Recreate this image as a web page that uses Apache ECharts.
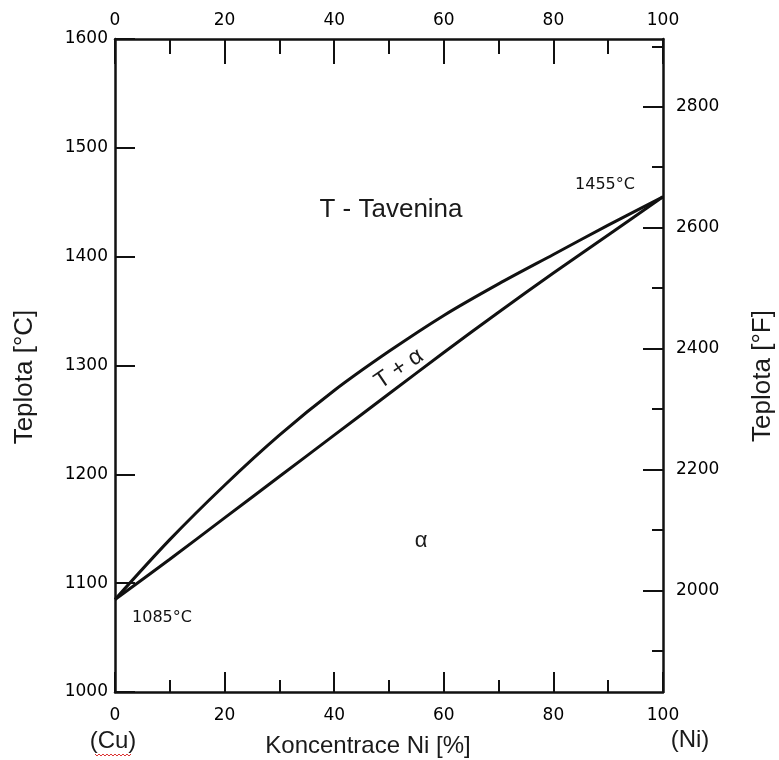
<!DOCTYPE html>
<html>
<head>
<meta charset="utf-8">
<script src="https://cdn.jsdelivr.net/npm/echarts@6/dist/echarts.min.js"></script>
<style>
  html, body { margin: 0; padding: 0; background: #fff; }
  #chart { width: 779px; height: 760px; }
</style>
</head>
<body>
<div id="chart"></div>
<script>
// Cu-Ni phase diagram
const conc = [0, 10, 20, 30, 40, 50, 60, 70, 80, 90, 100];
const liquidus = [1085, 1140, 1190, 1236, 1277, 1313, 1346, 1375, 1402, 1429, 1455];
const solidus = [1085, 1122, 1160, 1198, 1236, 1274, 1312, 1349, 1385, 1420, 1455];

const fTicksMajor = [2000, 2200, 2400, 2600, 2800];
const fTicksMinor = [1900, 2100, 2300, 2500, 2700, 2900];

const ink = '#111';
const tickFont = { fontFamily: 'DejaVu Sans', fontSize: 17, color: '#000', formatter: v => String(v) };

const chart = echarts.init(document.getElementById('chart'));

function xAx(pos, major, minor, margin) {
  return {
    type: 'value', position: pos, min: 0, max: 100, interval: 20,
    axisLine: { show: true, onZero: false, lineStyle: { color: ink, width: 2.5 } },
    axisTick: { show: true, inside: true, length: major, lineStyle: { color: ink, width: 2 } },
    minorTick: { show: true, splitNumber: 2, length: minor, lineStyle: { color: ink, width: 2 } },
    splitLine: { show: false },
    axisLabel: Object.assign({ margin: margin }, tickFont)
  };
}

const option = {
  animation: false,
  grid: { left: 115, right: 116, top: 39, bottom: 68 },
  xAxis: [xAx('bottom', 20, 12, 15), xAx('top', 25, 15, 10)],
  yAxis: [
    {
      type: 'value', position: 'left', min: 1000, max: 1600, interval: 100,
      axisLine: { show: true, onZero: false, lineStyle: { color: ink, width: 2.5 } },
      axisTick: { show: true, inside: true, length: 20, lineStyle: { color: ink, width: 2 } },
      splitLine: { show: false },
      axisLabel: Object.assign({ margin: 7 }, tickFont)
    },
    {
      type: 'value', position: 'right', min: 1832, max: 2912,
      axisLine: { show: true, onZero: false, lineStyle: { color: ink, width: 2.5 } },
      axisTick: { show: true, inside: true, length: 20, customValues: fTicksMajor, lineStyle: { color: ink, width: 2 } },
      splitLine: { show: false },
      axisLabel: Object.assign({ margin: 13, customValues: fTicksMajor }, tickFont)
    },
    {
      type: 'value', position: 'right', min: 1832, max: 2912,
      axisLine: { show: false, onZero: false },
      axisTick: { show: true, inside: true, length: 11, customValues: fTicksMinor, lineStyle: { color: ink, width: 2 } },
      splitLine: { show: false },
      axisLabel: { show: false }
    }
  ],
  series: [
    {
      type: 'line', name: 'liquidus', smooth: 0.3, symbol: 'none',
      data: conc.map((c, i) => [c, liquidus[i]]),
      lineStyle: { color: ink, width: 3 }
    },
    {
      type: 'line', name: 'solidus', smooth: 0.3, symbol: 'none',
      data: conc.map((c, i) => [c, solidus[i]]),
      lineStyle: { color: ink, width: 3 }
    }
  ],
  graphic: [
    { type: 'text', x: 391, y: 210, style: { text: 'T - Tavenina', font: '26px "Liberation Sans"', fill: '#1a1a1a', align: 'center', verticalAlign: 'middle' } },
    { type: 'text', x: 399, y: 369, rotation: 0.6,
      style: { text: 'T + α', font: '23px "Liberation Sans"', fill: '#1a1a1a', align: 'center', verticalAlign: 'middle' } },
    { type: 'text', x: 421, y: 541, style: { text: 'α', font: '22px "Liberation Sans"', fill: '#1a1a1a', align: 'center', verticalAlign: 'middle' } },
    { type: 'text', x: 605, y: 185, style: { text: '1455°C', font: '16px "DejaVu Sans"', fill: '#111', align: 'center', verticalAlign: 'middle' } },
    { type: 'text', x: 162, y: 618, style: { text: '1085°C', font: '16px "DejaVu Sans"', fill: '#111', align: 'center', verticalAlign: 'middle' } },
    { type: 'text', x: 368, y: 746, style: { text: 'Koncentrace Ni [%]', font: '24px "Liberation Sans"', fill: '#1a1a1a', align: 'center', verticalAlign: 'middle' } },
    { type: 'text', x: 113, y: 741, style: { text: '(Cu)', font: '24px "Liberation Sans"', fill: '#1a1a1a', align: 'center', verticalAlign: 'middle' } },
    { type: 'text', x: 690, y: 740, style: { text: '(Ni)', font: '24px "Liberation Sans"', fill: '#1a1a1a', align: 'center', verticalAlign: 'middle' } },
    { type: 'text', x: 25, y: 377, rotation: Math.PI / 2,
      style: { text: 'Teplota [°C]', font: '26px "Liberation Sans"', fill: '#1a1a1a', align: 'center', verticalAlign: 'middle' } },
    { type: 'text', x: 763, y: 376, rotation: Math.PI / 2,
      style: { text: 'Teplota [°F]', font: '26px "Liberation Sans"', fill: '#1a1a1a', align: 'center', verticalAlign: 'middle' } },
    // spellcheck squiggle under "Cu"
    { type: 'polyline', shape: { points: [[95,754],[97,756],[99,754],[101,756],[103,754],[105,756],[107,754],[109,756],[111,754],[113,756],[115,754],[117,756],[119,754],[121,756],[123,754],[125,756],[127,754],[129,756],[131,754]] },
      style: { stroke: '#d33', lineWidth: 1, fill: null } }
  ]
};

chart.setOption(option);
</script>
</body>
</html>
